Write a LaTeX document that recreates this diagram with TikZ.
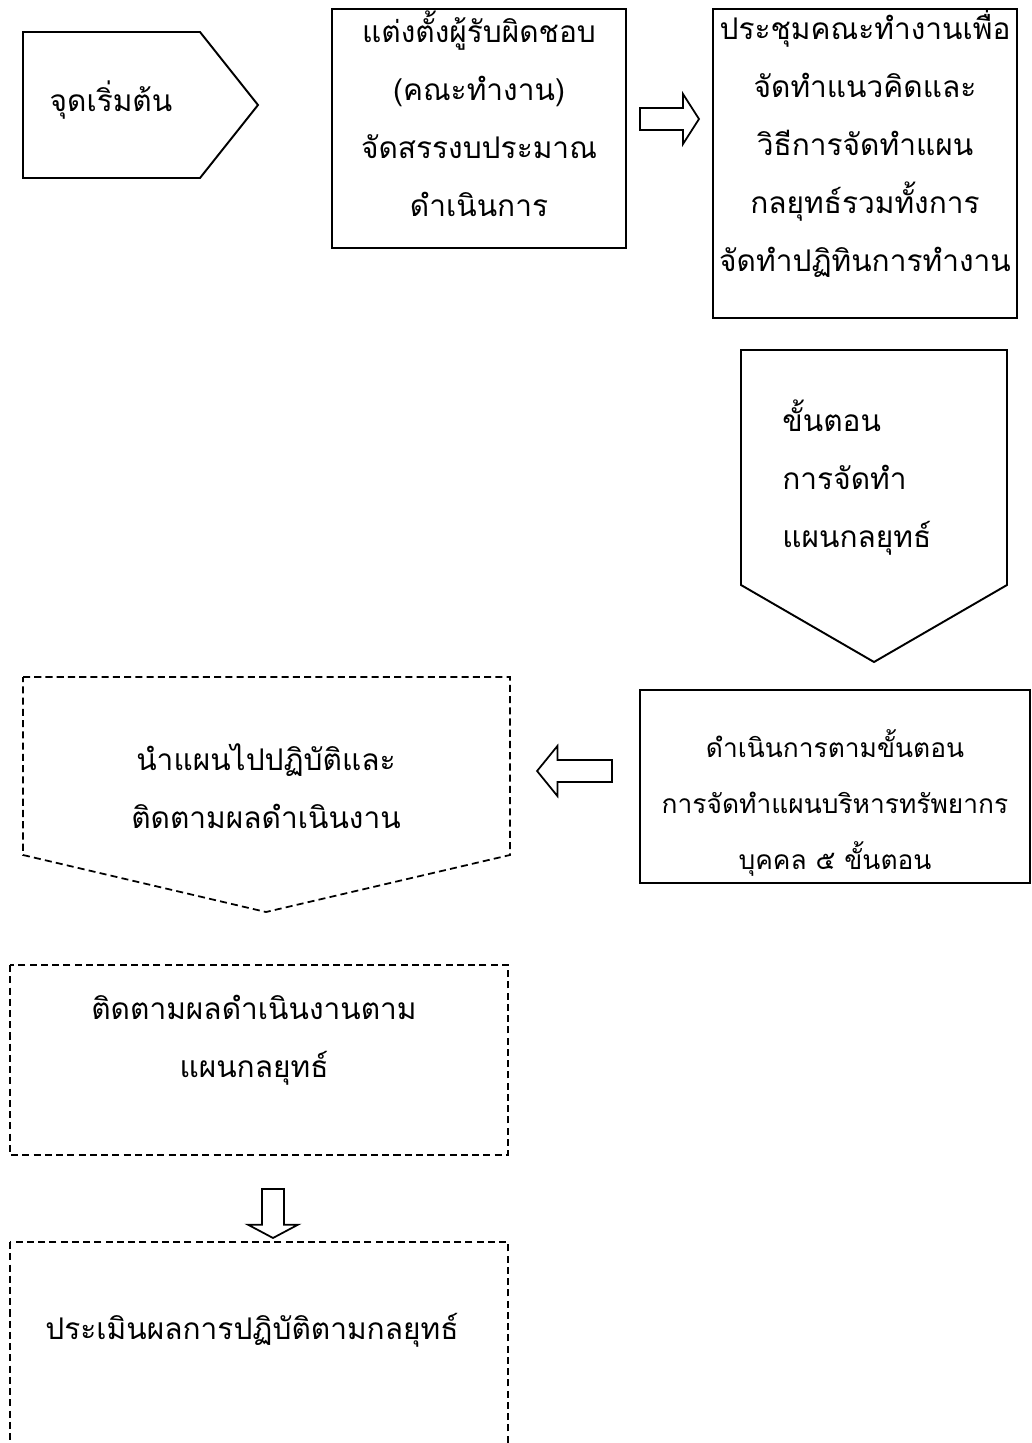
\documentclass[tikz,border=0pt]{standalone}
\usepackage{fontspec}
\newfontfamily\thaifont[Script=Thai]{Loma}
\usetikzlibrary{positioning}
\tikzset{
  outline/.style={draw, line width=1.1pt},
  dashline/.style={draw, line width=1pt, dash pattern=on 4pt off 2.4pt},
  txt/.style={font=\thaifont\fontsize{17}{33}\selectfont, align=center, inner sep=0pt},
  smalltxt/.style={txt, font=\thaifont\fontsize{15}{32}\selectfont},
  blockarrow/.pic={\draw[line width=1pt, fill=white] (0,-11) -- (43,-11) -- (43,-25) -- (59,0) -- (43,25) -- (43,11) -- (0,11) -- cycle;},
}

\begin{document}
\begin{tikzpicture}[x=0.02cm, y=-0.02cm]
\clip (0,0) rectangle (1031,1443);

% top row
\draw[outline] (23,32) -- (200,32) -- (258,105) -- (200,178) -- (23,178) -- cycle;
\node[txt] (startlbl) at (111,100) {จุดเริ่มต้น};

\draw[outline] (332,9) rectangle (626,248);
\node[txt] (appointlbl) at (479,114) {แต่งตั้งผู้รับผิดชอบ\\(คณะทำงาน)\\จัดสรรงบประมาณ\\ดำเนินการ};

\pic at (640,119) {blockarrow};

\draw[outline] (713,9) rectangle (1017,318);
\node[txt] (meetlbl) at (865,143) {ประชุมคณะทำงานเพื่อ\\จัดทำแนวคิดและ\\วิธีการจัดทำแผน\\กลยุทธ์รวมทั้งการ\\จัดทำปฏิทินการทำงาน};

% steps chevron
\draw[outline] (741,350) -- (1007,350) -- (1007,585) -- (874,662) -- (741,585) -- cycle;
\node[txt, align=left, anchor=west] (steplbl) at (782,478) {ขั้นตอน\\การจัดทำ\\แผนกลยุทธ์};

\draw[outline] (640,690) rectangle (1030,883);
\node[smalltxt] (proclbl) at (835,803) {ดำเนินการตามขั้นตอน\\การจัดทำแผนบริหารทรัพยากร\\บุคคล ๕ ขั้นตอน};

\pic[rotate=180, xscale=1.27] at (612,771) {blockarrow};

% dashed part
\draw[dashline] (23,677) -- (510,677) -- (510,855) -- (266,912) -- (23,855) -- cycle;
\node[txt] (implbl) at (266,786) {นำแผนไปปฏิบัติและ\\ติดตามผลดำเนินงาน};

\draw[dashline] (10,965) rectangle (508,1155);
\node[txt] (monlbl) at (254,1040) {ติดตามผลดำเนินงานตาม\\แผนกลยุทธ์};

\pic[rotate=-90, xscale=0.83] at (273,1189) {blockarrow};

\draw[dashline] (10,1242) rectangle (508,1470);
\node[txt] (evallbl) at (252,1330) {ประเมินผลการปฏิบัติตามกลยุทธ์};
\end{tikzpicture}
\end{document}
